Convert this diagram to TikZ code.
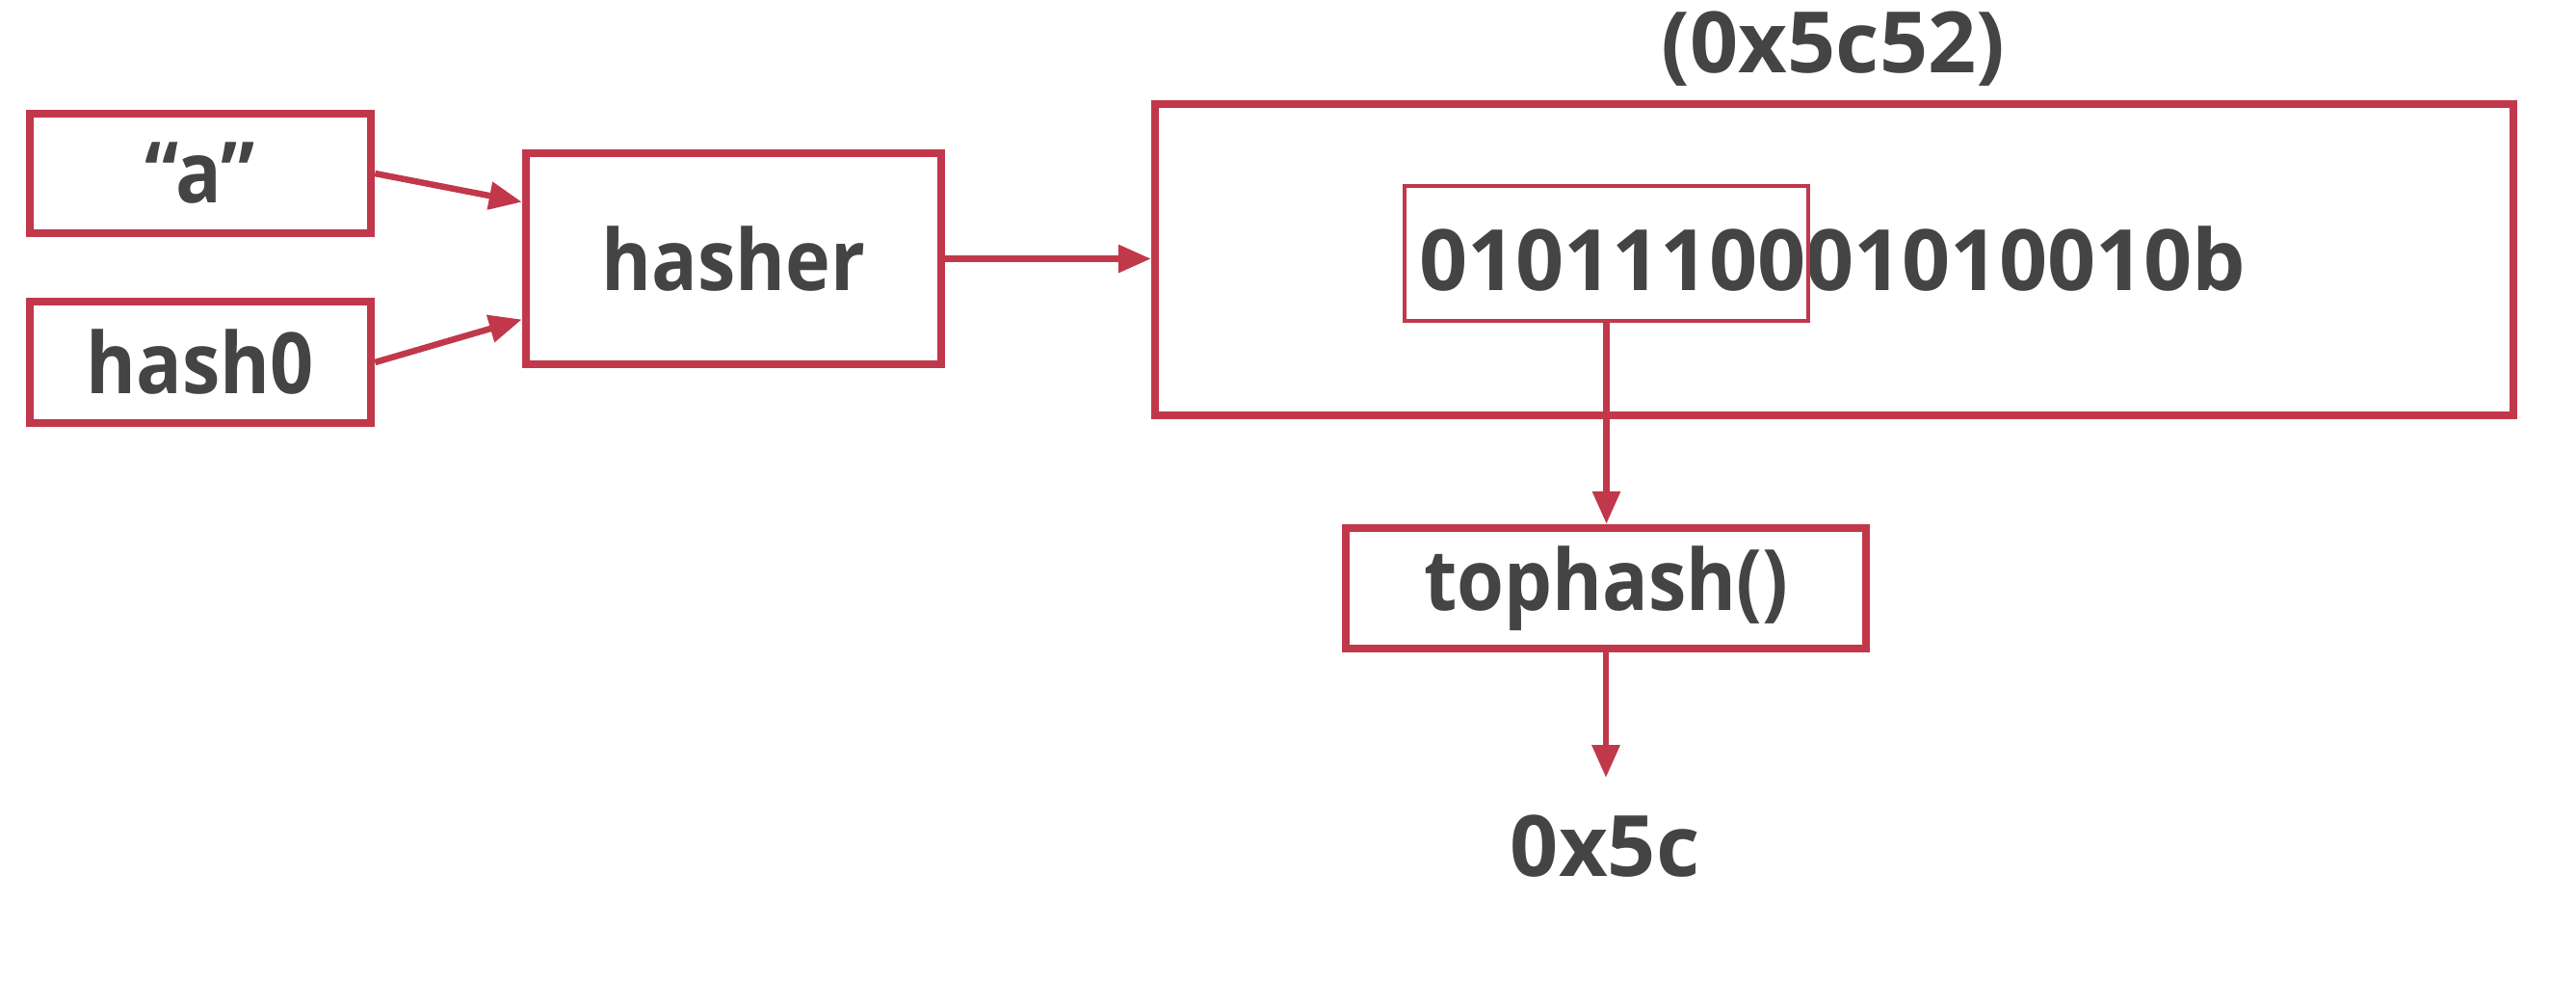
\documentclass[tikz,border=0pt]{standalone}
\usepackage{fontspec}
\setmainfont{Open Sans}[FakeStretch=0.9]
\newfontfamily\numfont{Open Sans}
\definecolor{hashred}{RGB}{193,56,74}
\definecolor{textgray}{RGB}{68,68,68}
\usetikzlibrary{arrows.meta,positioning}

\begin{document}
\begin{tikzpicture}[
      box/.style={draw=hashred, line width=0.085cm, inner sep=0pt, align=center,
                  font=\fontsize{25}{30}\selectfont\bfseries, text=textgray,
                  minimum height=1.24cm, minimum width=3.54cm},
      lbl/.style={inner sep=0pt, font=\numfont\fontsize{25}{30}\selectfont\bfseries, text=textgray},
      arr/.style={-{Triangle[length=3.4mm, width=2.8mm]}, line width=0.065cm, hashred}]
    \useasboundingbox (0,0) rectangle (26.74,-10.44);
    \node[box] (a) at (2.08,-1.80) {“a”};
    \node[box, minimum height=1.26cm] (hash0) at (2.08,-3.76) {hash0};
    \node[box, minimum width=4.31cm, minimum height=2.19cm] (hasher) at (7.615,-2.685) {hasher};
    \node[box, minimum width=14.10cm, minimum height=3.23cm] (big) at (19.04,-2.695) {};
    \node[lbl] (bits) at (19.02,-2.69) {0101110001010010b};
    \node[draw=hashred, line width=0.04cm, minimum width=4.19cm, minimum height=1.40cm] (top8) at (16.675,-2.625) {};
    \node[lbl] (hex) at (19.03,-0.51) {(0x5c52)};
    \node[box, minimum width=5.40cm, minimum height=1.25cm] (tophash) at (16.67,-6.105) {tophash()};
    \node[lbl, inner ysep=0.38cm] (res) at (16.66,-8.78) {0x5c};
    \draw[arr] (a.east) -- (hasher.165);
    \draw[arr] (hash0.east) -- (hasher.196);
    \draw[arr] (hasher.east) -- (hasher.east -| big.west);
    \draw[arr] (top8.south) -- (top8.south |- tophash.north);
    \draw[arr] (tophash.south) -- (tophash.south |- res.north);
  \end{tikzpicture}
\end{document}
